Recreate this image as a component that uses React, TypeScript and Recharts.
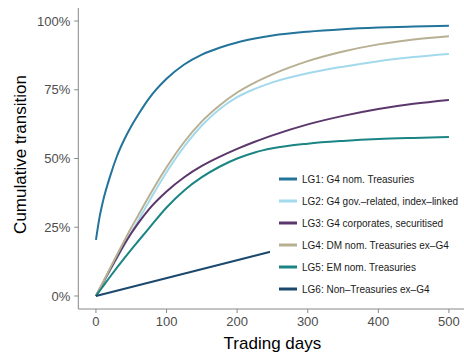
import { LineChart, Line, XAxis, YAxis, Legend } from 'recharts';

const FONT = '"Liberation Sans", Arial, Helvetica, sans-serif';
const AXIS = '#888888';

// trading days sampled along the curves
const days = [0, 5, 10, 20, 30, 40, 50, 60, 75, 100, 125, 150, 175, 200, 225, 250, 300, 350, 400, 450, 500];

// cumulative transition, in %
const lg1 = [20.4, 28.5, 34.5, 43.5, 51, 56.8, 61.7, 66, 71.8, 79, 84.2, 87.8, 90.3, 92.2, 93.6, 94.7, 96.1, 97, 97.6, 98, 98.3];
const lg2 = [0, 2.3, 4.6, 9.3, 13.9, 18.5, 23, 27.5, 34.3, 45, 54.3, 62, 67.9, 72.3, 75.3, 77.7, 81, 83.4, 85.4, 86.9, 88];
const lg3 = [0, 2.4, 4.8, 9.6, 14.2, 18.7, 22.8, 26.5, 31.5, 38, 43.2, 47.3, 50.6, 53.5, 56.1, 58.4, 62.4, 65.5, 68, 69.9, 71.3];
const lg4 = [0, 2.5, 5, 10.1, 15.1, 20, 24.8, 29.4, 36.2, 46.8, 56, 63.5, 69.3, 74, 77.6, 80.6, 85.4, 88.9, 91.5, 93.3, 94.5];
const lg5 = [0, 1.75, 3.5, 7, 10.4, 13.7, 16.9, 20, 24.6, 32.2, 38.4, 43.2, 47, 50, 52.2, 53.7, 55.4, 56.4, 57.1, 57.5, 57.8];
const lg6 = [0, null, null, null, null, null, null, null, null, null, null, null, null, null, null, 16.3, null, null, null, null, null];

const seriesKeys = ['lg1', 'lg2', 'lg3', 'lg4', 'lg5', 'lg6'];
const seriesNames = [
  'LG1: G4 nom. Treasuries',
  'LG2: G4 gov.\u2013related, index\u2013linked',
  'LG3: G4 corporates, securitised',
  'LG4: DM nom. Treasuries ex\u2013G4',
  'LG5: EM nom. Treasuries',
  'LG6: Non\u2013Treasuries ex\u2013G4',
];
const seriesColors = ['#23749a', '#a3d9ec', '#5c376c', '#b7b092', '#1b8583', '#1b486c'];

const xTicks = [0, 100, 200, 300, 400, 500];
const yTicks = [0, 25, 50, 75, 100];

const rows = days.map((d, i) => ({
  day: d,
  lg1: lg1[i],
  lg2: lg2[i],
  lg3: lg3[i],
  lg4: lg4[i],
  lg5: lg5[i],
  lg6: lg6[i],
}));

function YTitle({ viewBox }: any) {
  const x = viewBox.x + 26;
  const y = viewBox.y + viewBox.height / 2 - 4;
  return (
    <text x={x} y={y} transform={`rotate(-90 ${x} ${y})`} textAnchor="middle" fontSize={17} fontFamily={FONT} fill="#000">
      Cumulative transition
    </text>
  );
}

function XTitle({ viewBox }: any) {
  return (
    <text x={viewBox.x + viewBox.width / 2} y={viewBox.y + 40} textAnchor="middle" fontSize={17} fontFamily={FONT} fill="#000">
      Trading days
    </text>
  );
}

function LegendBox({ payload }: any) {
  return (
    <div style={{ background: '#fff', paddingLeft: 9, fontFamily: FONT, fontSize: 10, color: '#1a1a1a' }}>
      {(payload || []).map((p: any) => (
        <div key={p.value} style={{ display: 'flex', alignItems: 'center', height: 22 }}>
          <svg width={18} height={4} style={{ display: 'block' }}>
            <line x1={0} x2={18} y1={2} y2={2} stroke={p.color} strokeWidth={3} />
          </svg>
          <span style={{ marginLeft: 5, whiteSpace: 'nowrap' }}>{p.value}</span>
        </div>
      ))}
    </div>
  );
}

export default function App() {
  return (
    <div style={{ position: 'absolute', left: 0, top: 0, width: 464, height: 352, overflow: 'hidden', background: '#fff' }}>
      <LineChart width={470} height={352} data={rows} margin={{ top: 8, right: 3.4, bottom: 0, left: 0 }}>
        <XAxis
          dataKey="day"
          type="number"
          domain={[-25, 525]}
          ticks={xTicks}
          allowDataOverflow
          height={43}
          axisLine={{ stroke: AXIS }}
          tickLine={{ stroke: AXIS }}
          tickSize={4}
          tickMargin={4}
          tick={{ fontSize: 13, fill: '#4d4d4d', fontFamily: FONT }}
          label={<XTitle />}
        />
        <YAxis
          type="number"
          domain={[-4.73, 104.73]}
          ticks={yTicks}
          allowDataOverflow
          width={78.3}
          tickFormatter={(v: number) => `${v}%`}
          axisLine={{ stroke: AXIS }}
          tickLine={{ stroke: AXIS }}
          tickSize={4}
          tickMargin={4}
          tick={{ fontSize: 13, fill: '#4d4d4d', fontFamily: FONT }}
          label={<YTitle />}
        />
        {seriesKeys.map((k, i) => (
          <Line
            key={k}
            dataKey={k}
            name={seriesNames[i]}
            type="monotone"
            stroke={seriesColors[i]}
            strokeWidth={2}
            dot={false}
            connectNulls
            isAnimationActive={false}
          />
        ))}
        <Legend
          layout="vertical"
          align="center"
          verticalAlign="middle"
          content={<LegendBox />}
          wrapperStyle={{ left: 270, top: 168, width: 194 }}
        />
      </LineChart>
    </div>
  );
}
